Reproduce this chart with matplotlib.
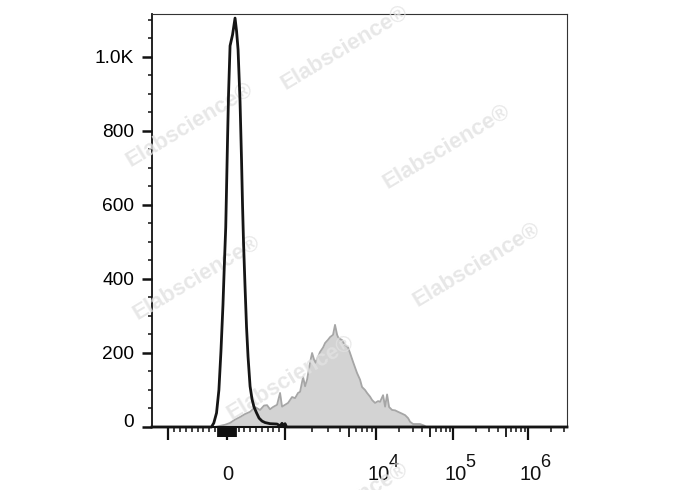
import numpy as np
import matplotlib
matplotlib.use('Agg')
import matplotlib.pyplot as plt
from matplotlib.ticker import FixedLocator, FixedFormatter

plt.rcParams['font.family'] = ['Liberation Sans', 'DejaVu Sans']

# ── data ────────────────────────────────────────────────
# unstained control (black line)
ctrl_x = [-1500, -264, -224, -178, -138, -103, -69, -43, -22, -9,
          9, 26, 52, 95, 138, 164, 190, 224, 250, 267,
          284, 310, 336, 362, 397, 431, 465, 509, 552, 603,
          655, 741, 862, 914, 948, 974, 1000, 1039, 1106, 3.3e6]
ctrl_y = [0, 0, 11, 38, 100, 205, 330, 450, 540, 640,
          780, 900, 1030, 1060, 1105, 1070, 1020, 880, 720, 600,
          500, 380, 270, 190, 110, 75, 54, 38, 24, 16,
          12, 9, 8, 3, 10, 3, 9, 0, 0, 0]

# stained sample (grey filled)
stain_x = [-207, -121, -34, 52, 138, 224, 310, 397, 483, 569,
           638, 690, 741, 793, 862, 914, 948, 1000, 1079, 1194,
           1288, 1389, 1462, 1578, 1660, 1746, 1884, 1982, 2138, 2307,
           2427, 2618, 2754, 2972, 3126, 3365, 3540, 3724, 3818, 4017,
           4227, 4560, 4920, 5176, 5585, 6177, 6666, 7013, 7568, 7962,
           8589, 9036, 9750, 10617, 11271, 12330, 13094, 13900, 14758, 16141,
           17652, 19305, 21774, 23823, 26056, 27670, 30266, 37256, 41976, 44543]
stain_y = [0, 3, 6, 11, 20, 27, 35, 41, 54, 46,
           58, 59, 48, 54, 60, 92, 55, 60, 65, 81,
           78, 92, 95, 135, 110, 128, 175, 200, 173, 190,
           203, 215, 227, 236, 243, 249, 276, 250, 243, 238,
           235, 222, 215, 200, 176, 146, 128, 108, 100, 92,
           82, 73, 65, 70, 68, 86, 55, 88, 54, 46,
           45, 41, 36, 32, 24, 14, 8, 8, 4, 0]

# axis ticks
x_long = [-1000, 0, 1000, 1e4, 1e5, 1e6]
x_label_vals = [0, 1e4, 1e5, 1e6]
x_label_base = ['0', '10', '10', '10']
x_label_exp = ['', '4', '5', '6']
x_mid = [5e3, 5e4, 5e5] + [v for v in range(-150, 160, 10) if v != 0]
x_short = ([-v for v in range(200, 1000, 100)] + list(range(200, 1000, 100))
           + [m * 10**e for e in (3, 4, 5) for m in range(2, 10) if m != 5]
           + [2e6, 3e6])
y_major = [0, 200, 400, 600, 800, 1000]
y_labels = ['0', '200', '400', '600', '800', '1.0K']
y_minor = [v for v in range(50, 1150, 50) if v % 200 != 0]

# ── biexponential-like display scale ──────────────────────
U_ANCH = np.array([-3, -2, -1, 0, 1, 2, 3, 4, 5, 6], dtype=float)
P_ANCH = np.array([-14, 77, 168, 227, 285, 376, 453, 528, 603, 678], dtype=float)


def _u(x):
    x = np.asarray(x, dtype=float)
    a = np.abs(x)
    return np.where(a <= 1000, x / 1000,
                    np.sign(x) * (1 + np.log10(np.maximum(a, 1000) / 1000)))


def fwd(x):
    return np.interp(_u(x), U_ANCH, P_ANCH)


def inv(p):
    u = np.interp(np.asarray(p, dtype=float), P_ANCH, U_ANCH)
    a = np.abs(u)
    return np.where(a <= 1, u * 1000, np.sign(u) * 1000 * 10 ** (np.maximum(a, 1) - 1))


# ── figure ───────────────────────────────────────────────
W, H = 688, 490
fig = plt.figure(figsize=(W / 100, H / 100), dpi=100, facecolor='white')
ax = fig.add_axes([152 / W, 1 - 427 / H, (567 - 152) / W, (427 - 14) / H])
ax.set_xscale('function', functions=(fwd, inv))
ax.set_xlim(-1500, 3.3e6)
ax.set_ylim(0, 1116)

ax.fill_between(stain_x, stain_y, color='#d3d3d3', lw=0, zorder=1)
ax.plot(stain_x, stain_y, color='#a6a6a6', lw=1.3, zorder=2)
ax.plot(ctrl_x, ctrl_y, color='#151515', lw=2.0, zorder=5, clip_on=False)

# spines
for side in ('top', 'right'):
    ax.spines[side].set_color('#333333')
    ax.spines[side].set_linewidth(0.8)
ax.spines['left'].set_linewidth(1.3)
ax.spines['bottom'].set_linewidth(1.5)
ax.spines['left'].set_color('#111111')
ax.spines['bottom'].set_color('#111111')

# y axis
ax.yaxis.set_major_locator(FixedLocator(y_major))
ax.yaxis.set_major_formatter(FixedFormatter(y_labels))
ax.yaxis.set_minor_locator(FixedLocator(y_minor))
ax.tick_params(axis='y', which='major', direction='out', length=7.2, width=1.8,
               pad=5.8, labelsize=13.8, color='#111111')
ax.tick_params(axis='y', which='minor', direction='out', length=3.2, width=1.1,
               color='#111111')
yt = ax.yaxis.get_major_ticks(len(y_major))
yt[0].label1.set_va('baseline')

# x axis: three tick lengths, labels drawn as base + exponent
x_locs = x_long + x_mid + x_short
ax.xaxis.set_major_locator(FixedLocator(x_locs))
ax.xaxis.set_major_formatter(FixedFormatter([''] * len(x_locs)))
ax.tick_params(axis='x', which='major', direction='out', length=9.4, width=1.6,
               color='#111111')
xt = ax.xaxis.get_major_ticks(len(x_locs))
for i, t in enumerate(xt):
    if i < len(x_long):
        continue
    elif i < len(x_long) + len(x_mid):
        t.tick1line.set_markersize(7.5)
        t.tick1line.set_markeredgewidth(1.3)
    else:
        t.tick1line.set_markersize(3.6)
        t.tick1line.set_markeredgewidth(1.1)

for val, base, exp in zip(x_label_vals, x_label_base, x_label_exp):
    dx = 0.3 if exp == '' else 1.5
    ax.annotate(base, xy=(val, 0), xycoords=('data', 'axes fraction'),
                xytext=(dx, -38.0), textcoords='offset points',
                ha='center', va='baseline', fontsize=14.5, color='#111111',
                annotation_clip=False)
    if exp:
        ax.annotate(exp, xy=(val, 0), xycoords=('data', 'axes fraction'),
                    xytext=(9.0, -28.8), textcoords='offset points',
                    ha='left', va='baseline', fontsize=13, color='#111111',
                    annotation_clip=False)

# watermarks
wm_pos = [(345, 48), (190, 125), (447, 147), (197, 278), (477, 265), (291, 378), (345, 505)]
for px, py in wm_pos:
    ax.text(px / W, 1 - py / H, 'Elabscience®', transform=fig.transFigure,
            rotation=31, rotation_mode='anchor', ha='center', va='center',
            fontsize=16, fontweight='bold', color='#e2e2e2', alpha=0.8,
            zorder=3, clip_on=False)

fig.savefig('out.png', dpi=100, facecolor='white')
